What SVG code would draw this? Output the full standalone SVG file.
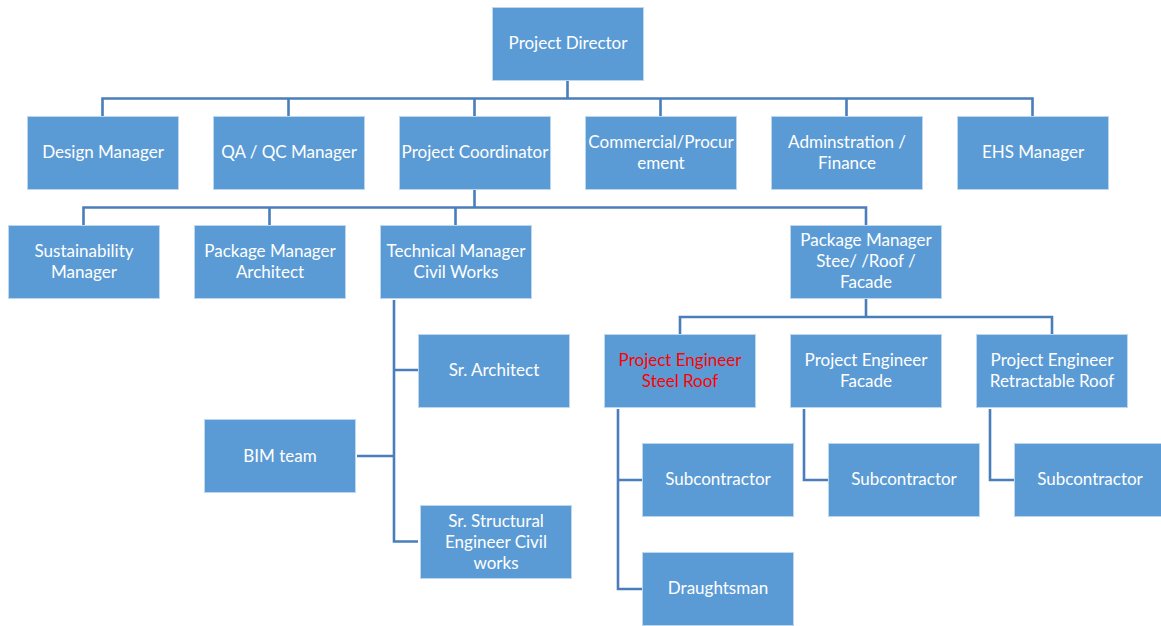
<svg xmlns="http://www.w3.org/2000/svg" width="1161" height="626" viewBox="0 0 1161 626">
<style>
.b{fill:#5B9BD5;stroke:#BDD7EE;stroke-width:1}
.t{font-family:Lato,"Open Sans",sans-serif;font-size:17px;fill:#FFFFFF;text-anchor:middle}
.r{fill:#FF0000}
.c{fill:none;stroke:#4A7EBB;stroke-width:2.6}
</style>
<rect width="1161" height="626" fill="#FFFFFF"/>
<g id="connectors">
<path class="c" d="M567.5 80V98.5M102.5 116V98.5H1032.5V116M288.5 98.5V116M474.5 98.5V116M660.5 98.5V116M846.5 98.5V116"/>
<path class="c" d="M474.5 189V207.5M83.5 225V207.5H866V225M269.5 207.5V225M455.5 207.5V225"/>
<path class="c" d="M394 300V541.5H418M394 370H418M357 456H394"/>
<path class="c" d="M866 298V317M680 334V317H1052V334"/>
<path class="c" d="M618 409V589H642M618 480H642"/>
<path class="c" d="M804 409V480H828"/>
<path class="c" d="M990 409V480H1014"/>
</g>
<g id="project-director"><rect class="b" x="492.5" y="7.5" width="151" height="73"/><text class="t" x="568" y="49">Project Director</text></g>
<g id="design-manager"><rect class="b" x="27.5" y="116.5" width="151" height="73"/><text class="t" x="103" y="158">Design Manager</text></g>
<g id="qa-qc-manager"><rect class="b" x="213.5" y="116.5" width="151" height="73"/><text class="t" x="289" y="158">QA / QC Manager</text></g>
<g id="project-coordinator"><rect class="b" x="399.5" y="116.5" width="151" height="73"/><text class="t" x="475" y="158">Project Coordinator</text></g>
<g id="commercial"><rect class="b" x="585.5" y="116.5" width="151" height="73"/><text class="t" x="661" y="148">Commercial/Procur</text><text class="t" x="661" y="169">ement</text></g>
<g id="administration"><rect class="b" x="771.5" y="116.5" width="151" height="73"/><text class="t" x="847" y="148">Adminstration /</text><text class="t" x="847" y="169">Finance</text></g>
<g id="ehs-manager"><rect class="b" x="957.5" y="116.5" width="151" height="73"/><text class="t" x="1033" y="158">EHS Manager</text></g>
<g id="sustainability-manager"><rect class="b" x="8.5" y="225.5" width="151" height="73"/><text class="t" x="84" y="257">Sustainability</text><text class="t" x="84" y="278">Manager</text></g>
<g id="package-manager-architect"><rect class="b" x="194.5" y="225.5" width="151" height="73"/><text class="t" x="270" y="257">Package Manager</text><text class="t" x="270" y="278">Architect</text></g>
<g id="technical-manager"><rect class="b" x="380.5" y="225.5" width="151" height="73"/><text class="t" x="456" y="257">Technical Manager</text><text class="t" x="456" y="278">Civil Works</text></g>
<g id="package-manager-steel"><rect class="b" x="790.5" y="225.5" width="151" height="73"/><text class="t" x="866" y="246">Package Manager</text><text class="t" x="866" y="267">Stee/ /Roof /</text><text class="t" x="866" y="288">Facade</text></g>
<g id="sr-architect"><rect class="b" x="418.5" y="334.5" width="151" height="73"/><text class="t" x="494" y="376">Sr. Architect</text></g>
<g id="bim-team"><rect class="b" x="204.5" y="419.5" width="151" height="73"/><text class="t" x="280" y="462">BIM team</text></g>
<g id="sr-structural-engineer"><rect class="b" x="420.5" y="505.5" width="151" height="73"/><text class="t" x="496" y="527">Sr. Structural</text><text class="t" x="496" y="548">Engineer Civil</text><text class="t" x="496" y="569">works</text></g>
<g id="pe-steel-roof"><rect class="b" x="604.5" y="334.5" width="151" height="73"/><text class="t r" x="680" y="366">Project Engineer</text><text class="t r" x="680" y="387">Steel Roof</text></g>
<g id="pe-facade"><rect class="b" x="790.5" y="334.5" width="151" height="73"/><text class="t" x="866" y="366">Project Engineer</text><text class="t" x="866" y="387">Facade</text></g>
<g id="pe-retractable-roof"><rect class="b" x="976.5" y="334.5" width="151" height="73"/><text class="t" x="1052" y="366">Project Engineer</text><text class="t" x="1052" y="387">Retractable Roof</text></g>
<g id="subcontractor-1"><rect class="b" x="642.5" y="443.5" width="151" height="73"/><text class="t" x="718" y="485">Subcontractor</text></g>
<g id="draughtsman"><rect class="b" x="642.5" y="552.5" width="151" height="73"/><text class="t" x="718" y="594">Draughtsman</text></g>
<g id="subcontractor-2"><rect class="b" x="828.5" y="443.5" width="151" height="73"/><text class="t" x="904" y="485">Subcontractor</text></g>
<g id="subcontractor-3"><rect class="b" x="1014.5" y="443.5" width="151" height="73"/><text class="t" x="1090" y="485">Subcontractor</text></g>
</svg>
